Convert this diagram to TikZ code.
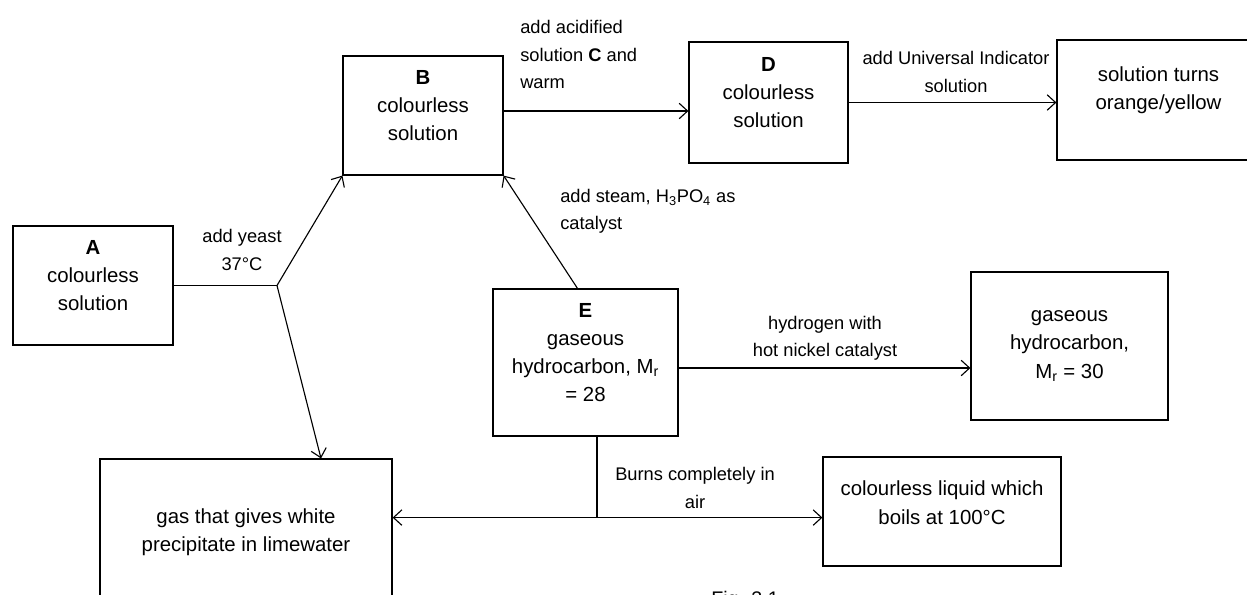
\documentclass[tikz,border=0pt]{standalone}
\usepackage{fontspec}
\setmainfont{Liberation Sans}
\usetikzlibrary{arrows.meta, positioning, calc}

\begin{document}
\begin{tikzpicture}[
    x=0.025cm, y=-0.025cm,
    >={Straight Barb[length=6pt,width=11pt]},
    box/.style={draw, line width=0.8pt, align=center, inner sep=2pt,
                font=\fontsize{14.5}{20}\selectfont},
    lift/.style={align=center, inner sep=0pt, yshift=0.25cm,
                 font=\fontsize{14.5}{20}\selectfont},
    note/.style={align=center, inner sep=0pt,
                 font=\fontsize{13}{19.5}\selectfont},
    arr/.style={->, line width=0.8pt}
  ]
  \useasboundingbox (0,0) rectangle (1247,594);

  % substances
  \node[box, minimum width=4cm, minimum height=2.975cm,
        label={[lift]center:{\textbf{A}\\colourless\\solution}}] (A) at (93,285.5) {};
  \node[box, minimum width=4cm, minimum height=2.975cm,
        label={[lift]center:{\textbf{B}\\colourless\\solution}}] (B) at (423,115.5) {};
  \node[box, minimum width=3.975cm, minimum height=3.025cm,
        label={[lift]center:{\textbf{D}\\colourless\\solution}}] (D) at (768.5,102.5) {};
  \node[box, minimum width=5.075cm, minimum height=3cm,
        label={[lift]center:{solution turns\\orange/yellow}}] (O) at (1158.5,100) {};
  \node[box, minimum width=4.625cm, minimum height=3.675cm,
        label={[lift]center:{\textbf{E}\\gaseous\\hydrocarbon, M\textsubscript{r}\\= 28}}]
        (E) at (585.5,362.5) {};
  \node[box, minimum width=4.925cm, minimum height=3.7cm] (H) at (1069.5,346)
    {gaseous\\hydrocarbon,\\M\textsubscript{r} = 30};
  \node[box, minimum width=5.95cm, minimum height=2.725cm,
        label={[lift, yshift=-0.03cm]center:{colourless liquid which\\boils at 100°C}}]
        (L) at (942,511.5) {};
  \node[box, minimum width=7.3cm, minimum height=3.65cm] (W) at (246,532)
    {gas that gives white\\precipitate in limewater};

  % junctions
  \coordinate (jn) at (277,285.5);
  \coordinate (bd) at ($(B.east)+(0,-4.5)$);
  \coordinate (eh) at ($(E.east)+(0,5.5)$);
  \coordinate (eb) at ($(E.south)+(11.5,0)$);
  \coordinate (jb) at ($(eb)+(0,81)$);

  % reactions
  \draw[line width=0.8pt] (A.east) -- (jn);
  \draw[arr] (jn) -- (B.south west);
  \draw[arr] (jn) -- ($(W.north)+(75,0)$);
  \draw[arr] (bd) -- (bd -| D.west);
  \draw[arr] (D.east) -- (D.east -| O.west);
  \draw[arr] ($(E.north)+(-8,0)$) -- (B.south east);
  \draw[arr] (eh) -- (eh -| H.west);
  \draw[line width=0.8pt] (eb) -- (jb);
  \draw[arr] (jb) -- (jb -| W.east);
  \draw[arr] (jb) -- (jb -| L.west);

  % conditions
  \node[note] (yeast) at (242,250) {add yeast\\37°C};
  \node[note, align=left, anchor=west] (acid) at (520,54.5)
    {add acidified\\solution \textbf{C} and\\warm};
  \node[note] (ui) at (956,72) {add Universal Indicator\\solution};
  \node[note, align=left, anchor=west] (steam) at (560,211)
    {add steam, H\textsubscript{3}PO\textsubscript{4} as\\catalyst};
  \node[note] (hyd) at (825,338) {hydrogen with\\hot nickel catalyst};
  \node[note] (burn) at (695,488) {Burns completely in\\air};

  \node[font=\fontsize{14}{16}\selectfont, anchor=north] (fig) at (745,586) {Fig. 3.1};
\end{tikzpicture}
\end{document}
